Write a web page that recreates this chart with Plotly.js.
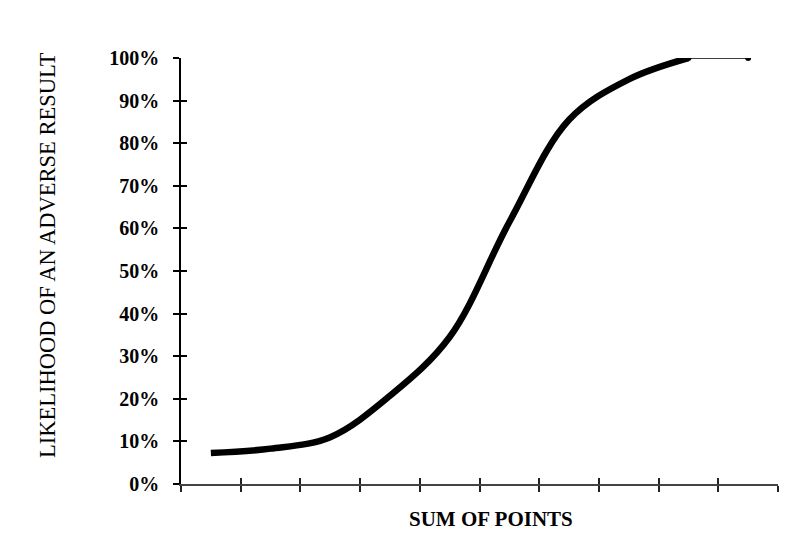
<!DOCTYPE html>
<html>
<head>
<meta charset="utf-8">
<script src="https://cdn.plot.ly/plotly-3.0.1.min.js"></script>
<style>
  body { margin: 0; background: #fff; }
  #chart { width: 808px; height: 538px; }
</style>
</head>
<body>
<div id="chart"></div>
<script>
// groups of summed points (no labels shown on the axis)
var groups = [1, 2, 3, 4, 5, 6, 7, 8, 9, 10];
// likelihood of an adverse result, in percent
var likelihood = [7.3, 8.3, 11, 20.7, 34.5, 61.5, 85.5, 95, 100, 100];

var yTicks = [0, 10, 20, 30, 40, 50, 60, 70, 80, 90, 100];
var yTickText = ['0%', '10%', '20%', '30%', '40%', '50%', '60%', '70%', '80%', '90%', '100%'];
var xTicks = [0.5, 1.5, 2.5, 3.5, 4.5, 5.5, 6.5, 7.5, 8.5, 9.5, 10.5];

var serif = '"Liberation Serif", "Times New Roman", serif';

// thick smoothed curve up to the 9th group
var curve = {
    x: groups.slice(0, 9),
    y: likelihood.slice(0, 9),
    type: 'scatter',
    mode: 'lines',
    line: { color: '#000', width: 6.5, shape: 'spline', smoothing: 1 },
    hoverinfo: 'x+y'
};

// last flat piece is drawn thin with dots
var tail = {
    x: groups.slice(8),
    y: likelihood.slice(8),
    type: 'scatter',
    mode: 'lines+markers',
    line: { color: '#000', width: 1.5 },
    marker: { color: '#000', size: 6 },
    hoverinfo: 'x+y'
};

var layout = {
    width: 808,
    height: 538,
    margin: { l: 181, r: 30, t: 58, b: 54 },
    paper_bgcolor: '#fff',
    plot_bgcolor: '#fff',
    showlegend: false,
    font: { family: serif, color: '#000' },
    xaxis: {
        range: [0.5, 10.5],
        tickmode: 'array',
        tickvals: xTicks,
        showticklabels: false,
        ticks: 'outside',
        ticklen: 6,
        tickwidth: 1.5,
        tickcolor: '#222',
        showline: true,
        linecolor: '#444',
        linewidth: 1.5,
        showgrid: false,
        zeroline: false
    },
    // second x axis only to get ticks crossing the line
    xaxis2: {
        overlaying: 'x',
        anchor: 'y',
        side: 'bottom',
        range: [0.5, 10.5],
        tickmode: 'array',
        tickvals: xTicks,
        showticklabels: false,
        ticks: 'inside',
        ticklen: 6,
        tickwidth: 1.5,
        tickcolor: '#222',
        showline: false,
        showgrid: false,
        zeroline: false
    },
    yaxis: {
        range: [0, 100],
        tickmode: 'array',
        tickvals: yTicks,
        ticktext: yTickText,
        tickfont: { family: serif, size: 20, color: '#000', weight: 'bold' },
        ticks: 'outside',
        ticklen: 6,
        tickwidth: 1.5,
        tickcolor: '#000',
        ticklabelstandoff: 10,
        showline: true,
        linecolor: '#000',
        linewidth: 1.5,
        showgrid: false,
        zeroline: false
    },
    yaxis2: {
        overlaying: 'y',
        anchor: 'x',
        side: 'left',
        range: [0, 100],
        tickmode: 'array',
        tickvals: yTicks,
        showticklabels: false,
        ticks: 'inside',
        ticklen: 6,
        tickwidth: 1.5,
        tickcolor: '#000',
        showline: false,
        showgrid: false,
        zeroline: false
    },
    annotations: [
        {
            text: 'SUM OF POINTS',
            xref: 'paper', yref: 'paper',
            x: (491 - 181) / 597, y: (484 - 519) / 426,
            xanchor: 'center', yanchor: 'middle',
            showarrow: false,
            font: { family: serif, size: 21, color: '#000', weight: 'bold' }
        },
        {
            text: 'LIKELIHOOD OF AN ADVERSE RESULT',
            xref: 'paper', yref: 'paper',
            x: (47 - 181) / 597, y: (484 - 255) / 426,
            xanchor: 'center', yanchor: 'middle',
            textangle: -90,
            showarrow: false,
            font: { family: serif, size: 22.5, color: '#000' }
        }
    ]
};

// dummy traces so the overlay axes are drawn
var ghostX = { x: [], y: [], xaxis: 'x2', yaxis: 'y', type: 'scatter', hoverinfo: 'skip' };
var ghostY = { x: [], y: [], xaxis: 'x', yaxis: 'y2', type: 'scatter', hoverinfo: 'skip' };

Plotly.newPlot('chart', [curve, tail, ghostX, ghostY], layout, { displayModeBar: false });
</script>
</body>
</html>
